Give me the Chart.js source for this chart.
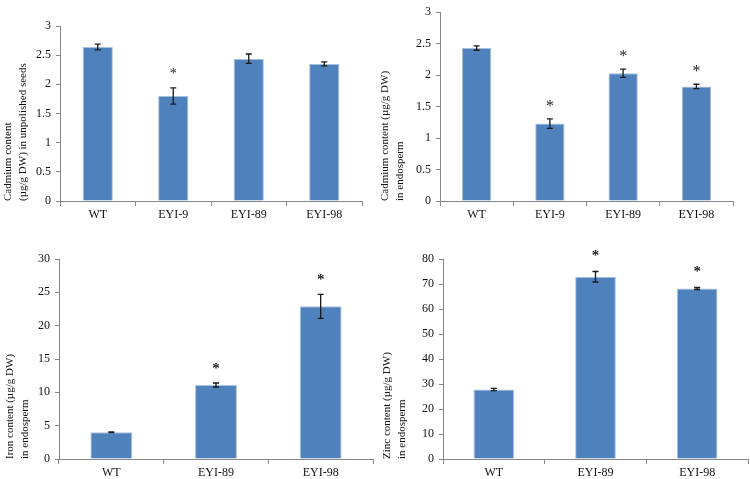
<!DOCTYPE html>
<html>
<head>
<meta charset="utf-8">
<script src="https://cdn.jsdelivr.net/npm/chart.js@4.4.1/dist/chart.umd.min.js"></script>
<style>
  body { margin: 0; background: #fff; }
  #wrap { position: relative; width: 750px; height: 479px; }
  .panel { position: absolute; }
</style>
</head>
<body>
<div id="wrap">
  <div class="panel" style="left:0;top:0;width:375px;height:230px"><canvas id="c1"></canvas></div>
  <div class="panel" style="left:375px;top:0;width:375px;height:230px"><canvas id="c2"></canvas></div>
  <div class="panel" style="left:0;top:240px;width:375px;height:239px"><canvas id="c3"></canvas></div>
  <div class="panel" style="left:375px;top:240px;width:375px;height:239px"><canvas id="c4"></canvas></div>
</div>
<script>
// categories
const cdLines = ['WT', 'EYI-9', 'EYI-89', 'EYI-98'];
const mineralLines = ['WT', 'EYI-89', 'EYI-98'];

// cadmium in unpolished seeds (ug/g DW)
const cdSeedVals = [2.64, 1.80, 2.44, 2.35];
const cdSeedErr = [0.05, 0.14, 0.08, 0.035];
const cdSeedSig = [false, true, false, false];

// cadmium in endosperm
const cdEndoVals = [2.43, 1.23, 2.03, 1.82];
const cdEndoErr = [0.035, 0.075, 0.065, 0.035];
const cdEndoSig = [false, true, true, true];

// iron in endosperm
const feVals = [4.0, 11.1, 22.9];
const feErr = [0.05, 0.3, 1.8];
const feSig = [false, true, true];

// zinc in endosperm
const znVals = [27.8, 72.9, 68.2];
const znErr = [0.45, 2.1, 0.4];
const znSig = [false, true, true];

const FONT = "'Liberation Serif', 'Times New Roman', serif";
const AXIS = '#868686';

// error bars + significance stars, drawn via the chart scales
const errorBars = {
    id: 'errorBars',
    afterDatasetsDraw(chart, args, opts) {
        const ctx = chart.ctx;
        const meta = chart.getDatasetMeta(0);
        const y = chart.scales.y;
        ctx.save();
        meta.data.forEach((bar, i) => {
            const v = opts.values[i], e = opts.errors[i];
            const x = bar.x;
            const yTop = y.getPixelForValue(v + e);
            const yBot = y.getPixelForValue(v - e);
            ctx.strokeStyle = '#1a1a1a';
            ctx.lineWidth = 1.3;
            ctx.beginPath();
            ctx.moveTo(x, yTop); ctx.lineTo(x, yBot);
            ctx.moveTo(x - 3, yTop); ctx.lineTo(x + 3, yTop);
            ctx.moveTo(x - 3, yBot); ctx.lineTo(x + 3, yBot);
            ctx.stroke();
            if (opts.sig[i]) {
                ctx.fillStyle = '#222';
                ctx.font = opts.starFont;
                ctx.textAlign = 'center';
                ctx.textBaseline = 'middle';
                ctx.fillText('*', x, yTop - opts.starGap);
            }
        });
        ctx.restore();
    }
};

function makeChart(id, cats, vals, errs, sig, cfg) {
    const ctx = document.getElementById(id).getContext('2d');
    return new Chart(ctx, {
        type: 'bar',
        data: {
            labels: cats,
            datasets: [{
                data: vals,
                backgroundColor: '#4f81bd',
                borderColor: '#a9c0dc',
                borderWidth: 1,
                categoryPercentage: 1,
                barPercentage: 0.4
            }]
        },
        plugins: [errorBars],
        options: {
            responsive: true,
            maintainAspectRatio: false,
            animation: false,
            layout: { padding: { top: cfg.top, right: cfg.right, left: 0, bottom: 0 } },
            plugins: {
                legend: { display: false },
                tooltip: { enabled: false },
                errorBars: { values: vals, errors: errs, sig: sig, starFont: cfg.starFont, starGap: cfg.starGap }
            },
            scales: {
                x: {
                    grid: { display: true, drawOnChartArea: false, tickLength: 5, color: AXIS },
                    border: { color: AXIS },
                    ticks: { color: '#111', font: { family: FONT, size: 12 }, padding: 2 },
                    afterFit: s => { s.height = cfg.xh; }
                },
                y: {
                    min: 0,
                    max: cfg.max,
                    ticks: {
                        stepSize: cfg.step, color: '#111', font: { family: FONT, size: 12 }, padding: 5,
                        callback: v => String(v)
                    },
                    grid: { display: true, drawOnChartArea: false, tickLength: 4, color: AXIS },
                    border: { color: AXIS },
                    title: {
                        display: true,
                        text: cfg.title,
                        align: 'start',
                        color: '#111',
                        font: { family: FONT, size: 11, lineHeight: 1.4 },
                        padding: { top: cfg.tpad, bottom: 0 }
                    },
                    afterFit: s => { s.width = cfg.yw; }
                }
            }
        }
    });
}

makeChart('c1', cdLines, cdSeedVals, cdSeedErr, cdSeedSig, {
    top: 26, right: 13, xh: 29, yw: 60, max: 3, step: 0.5, tpad: 0,
    title: ['Cadmium content', '(\u00b5g/g DW) in unpolished seeds'],
    starFont: '14px ' + FONT, starGap: 14
});
makeChart('c2', cdLines, cdEndoVals, cdEndoErr, cdEndoSig, {
    top: 7, right: 17, xh: 29, yw: 65, max: 3, step: 0.5, tpad: 2,
    title: ['Cadmium content (\u00b5g/g DW)', 'in endosperm'],
    starFont: '16px ' + FONT, starGap: 12
});
makeChart('c3', mineralLines, feVals, feErr, feSig, {
    top: 19, right: 2, xh: 20, yw: 59, max: 30, step: 5, tpad: 2,
    title: ['Iron content (\u00b5g/g DW)', 'in endosperm'],
    starFont: 'bold 15px ' + FONT, starGap: 14
});
makeChart('c4', mineralLines, znVals, znErr, znSig, {
    top: 19, right: 2, xh: 20, yw: 68, max: 80, step: 10, tpad: 4,
    title: ['Zinc content (\u00b5g/g DW)', 'in endosperm'],
    starFont: 'bold 15px ' + FONT, starGap: 15
});
</script>
</body>
</html>
